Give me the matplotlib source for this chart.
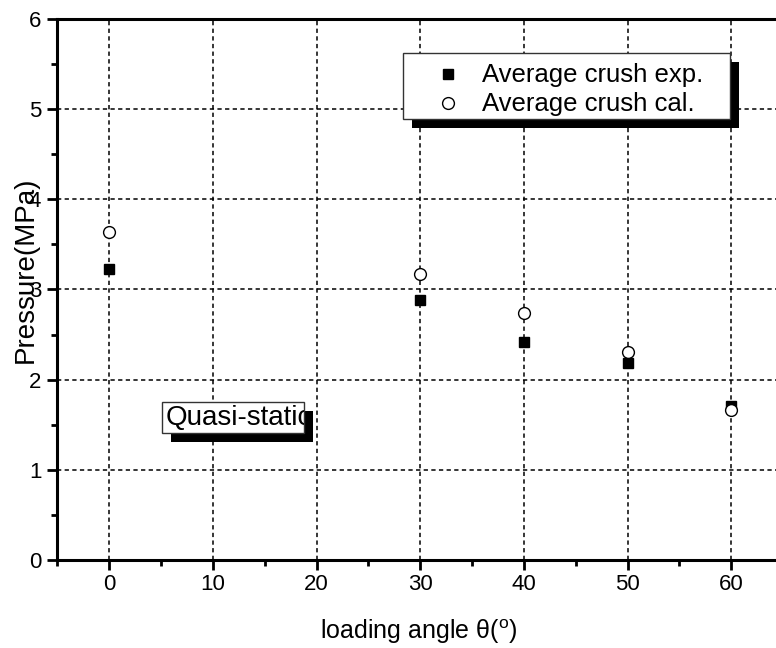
import matplotlib
matplotlib.use("Agg")
import matplotlib.pyplot as plt
from matplotlib.patches import Rectangle
from matplotlib.lines import Line2D

plt.rcParams['font.family'] = ['Liberation Sans', 'DejaVu Sans']
plt.rcParams['mathtext.fontset'] = 'custom'
plt.rcParams['mathtext.rm'] = 'Liberation Sans'

# Data
angles = [0, 30, 40, 50, 60]
crush_exp = [3.23, 2.88, 2.42, 2.19, 1.71]
crush_cal = [3.64, 3.17, 2.74, 2.31, 1.66]
label_exp = "Average crush exp."
label_cal = "Average crush cal."
xticks = [0, 10, 20, 30, 40, 50, 60]
yticks = [0, 1, 2, 3, 4, 5, 6]

W, H = 776, 648
fig = plt.figure(figsize=(W / 100, H / 100), dpi=100)

def fx(px):
    return px / W

def fy(py):
    return 1 - py / H

ax_left, ax_top, ax_bottom = 57.3, 19.0, 560.0
ax_w = 70 * 10.37
ax = fig.add_axes([fx(ax_left), fy(ax_bottom), ax_w / W, (ax_bottom - ax_top) / H])
ax.set_xlim(-5, 65)
ax.set_ylim(0, 6)

ax.plot(angles, crush_exp, linestyle='none', marker='s', markersize=7.5,
        color='black', label=label_exp, zorder=3, clip_on=False)
ax.plot(angles, crush_cal, linestyle='none', marker='o', markersize=8.5,
        markerfacecolor='white', markeredgecolor='black', markeredgewidth=1.0,
        label=label_cal, zorder=3, clip_on=False)

ax.set_xticks(xticks)
ax.set_yticks(yticks)
ax.set_xticks([-5, 5, 15, 25, 35, 45, 55, 65], minor=True)
ax.set_yticks([0.5, 1.5, 2.5, 3.5, 4.5, 5.5], minor=True)
ax.tick_params(axis='both', which='major', direction='out', length=7.5, width=2.0,
               labelsize=16, color='black')
ax.tick_params(axis='both', which='minor', direction='out', length=4, width=2.0)
ax.tick_params(axis='x', which='major', pad=2.5)
ax.tick_params(axis='y', which='major', pad=4)
ax.tick_params(top=False, right=False)

for s in ax.spines.values():
    s.set_linewidth(2.2)
    s.set_color('black')

ax.grid(True, which='major', color='black', linewidth=1.1, linestyle=(0, (2.8, 2.2)))
ax.set_axisbelow(True)

ax.set_ylabel("Pressure(MPa)", fontsize=20, va='center')
ax.yaxis.set_label_coords((26 - ax_left) / ax_w, (ax_bottom - 270) / (ax_bottom - ax_top))
ax.set_xlabel(r"loading angle θ($^{\mathrm{o}}$)", fontsize=18, va='center')
ax.xaxis.set_label_coords((419 - ax_left) / ax_w, (ax_bottom - 632) / (ax_bottom - ax_top))

# Legend box with black shadow (drawn in figure pixels)
def box(x0, y0, x1, y1, off):
    sh = Rectangle((fx(x0 + off), fy(y1 + off)), fx(x1) - fx(x0), fy(y0) - fy(y1),
                   transform=fig.transFigure, facecolor='black', edgecolor='none', zorder=5)
    fr = Rectangle((fx(x0), fy(y1)), fx(x1) - fx(x0), fy(y0) - fy(y1),
                   transform=fig.transFigure, facecolor='white', edgecolor='#333333',
                   linewidth=1.0, zorder=6)
    fig.add_artist(sh)
    fig.add_artist(fr)
    return fr

box(403, 53, 730, 119, 8.5)
fig.add_artist(Line2D([fx(448)], [fy(74)], marker='s', markersize=7.5, color='black',
                      linestyle='none', transform=fig.transFigure, zorder=7))
fig.add_artist(Line2D([fx(448)], [fy(103)], marker='o', markersize=8.5,
                      markerfacecolor='white', markeredgecolor='black', markeredgewidth=1.0,
                      linestyle='none', transform=fig.transFigure, zorder=7))
fig.text(fx(482), fy(75), label_exp, fontsize=18.5, va='center', ha='left', zorder=7)
fig.text(fx(482), fy(104), label_cal, fontsize=18.5, va='center', ha='left', zorder=7)

# Quasi-static annotation box (text clipped by its frame)
fr2 = box(162, 402, 304, 433, 8.5)
t = fig.text(fx(166), fy(418.5), "Quasi-static", fontsize=20, va='center', ha='left', zorder=7)
t.set_clip_path(fr2)

fig.savefig("out.png", dpi=100)
